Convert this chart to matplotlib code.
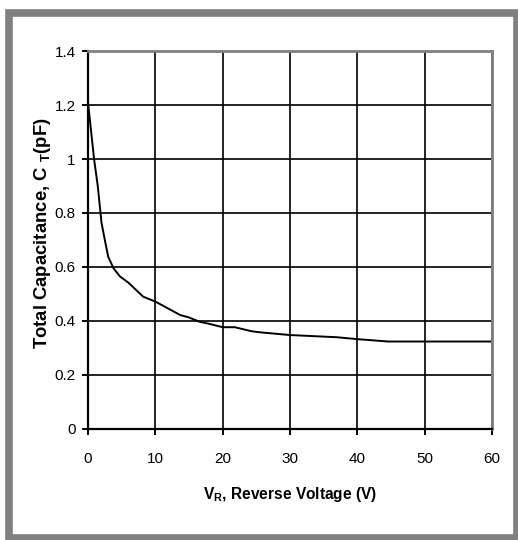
import matplotlib
matplotlib.use("Agg")
import matplotlib.pyplot as plt
from matplotlib.patches import Rectangle

# reverse voltage (V) and total capacitance (pF)
vr = [0, 0.9, 1.45, 2.0, 2.5, 3.0, 3.8, 4.75, 6.0, 8.2, 10, 13.7, 14.9, 16.6,
      18.1, 20, 21.8, 24.3, 25.6, 30, 36.9, 39.9, 44.6, 60]
ct = [1.21, 1.0, 0.90, 0.765, 0.70, 0.638, 0.595, 0.565, 0.542, 0.49, 0.472,
      0.422, 0.414, 0.397, 0.389, 0.377, 0.377, 0.362, 0.358, 0.348, 0.340,
      0.333, 0.324, 0.324]
xticks = [0, 10, 20, 30, 40, 50, 60]
yticks = [0, 0.2, 0.4, 0.6, 0.8, 1.0, 1.2, 1.4]
yticklabels = ["0", "0.2", "0.4", "0.6", "0.8", "1", "1.2", "1.4"]

plt.rcParams["font.family"] = ["Liberation Sans", "DejaVu Sans"]

fig = plt.figure(figsize=(5.18, 5.4), dpi=100)
# gray outer frame
fig.patches.append(Rectangle((9 / 518, 2 / 540), 508 / 518, 525 / 540,
                             transform=fig.transFigure, fill=False,
                             edgecolor="#808080", linewidth=5.5))

ax = fig.add_axes([88 / 518, 111 / 540, 404 / 518, 378 / 540])
ax.plot(vr, ct, color="black", linewidth=1.4)

ax.set_xlim(0, 60)
ax.set_ylim(0, 1.4)
ax.set_xticks(xticks)
ax.set_yticks(yticks)
ax.set_yticklabels(yticklabels)
ax.grid(True, color="black", linewidth=1.2)
ax.set_axisbelow(True)

for s in ["left", "bottom"]:
    ax.spines[s].set_color("black")
    ax.spines[s].set_linewidth(1.6)
for s in ["top", "right"]:
    ax.spines[s].set_color("#808080")
    ax.spines[s].set_linewidth(2)

ax.tick_params(direction="out", length=4, width=1.4, labelsize=11, pad=5)
ax.tick_params(axis="x", pad=12.5)

ax.set_xlabel(r"V$_\mathregular{R}$, Reverse Voltage (V)", fontsize=11.2,
              fontweight="bold", labelpad=14)
ax.set_ylabel(r"Total Capacitance, C $_\mathregular{T}$(pF)", fontsize=13.3,
              fontweight="bold")
ax.yaxis.set_label_coords(-0.087, 0.518)

fig.savefig("out.png", dpi=100)
